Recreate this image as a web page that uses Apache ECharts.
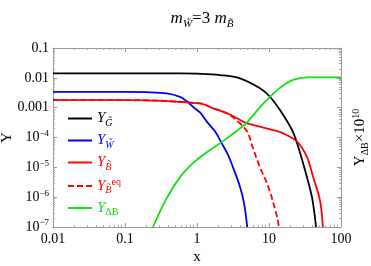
<!DOCTYPE html>
<html><head><meta charset="utf-8">
<script src="https://cdn.jsdelivr.net/npm/echarts@6/dist/echarts.min.js"></script>
<style>html,body{margin:0;padding:0;background:#fff}#c{width:371px;height:266px}</style>
</head><body><div id="c"></div>
<script>
// x values and Y values
const gX = [0.01, 0.1, 0.58, 1.0, 2.09, 3.96, 7.5, 10.3, 14.2, 20.9, 24.5, 31.6, 39.5, 45];
const gY = [0.0142, 0.0142, 0.0142, 0.0138, 0.0124, 0.0096, 0.00445, 0.00232, 8.3e-4, 1.78e-4, 6.5e-5, 8.1e-6, 1e-6, 1e-7];
const wX = [0.01, 0.1, 0.2, 0.38, 0.58, 0.73, 0.88, 1.1, 1.37, 1.77, 2.2, 2.7, 3.16, 3.96, 4.5, 4.98];
const wY = [0.0034, 0.0034, 0.0033, 0.0030, 0.0023, 0.0016, 0.00107, 6.9e-4, 3.4e-4, 1.64e-4, 6.5e-5, 2.6e-5, 1.0e-5, 2.2e-6, 6.3e-7, 1e-7];
const bX = [0.01, 0.1, 1.1, 1.67, 2.6, 3.6, 4.98, 7.5, 11.3, 15.5, 24.5, 33.6, 41, 51, 56];
const bY = [0.0018, 0.0018, 0.00139, 9.5e-4, 6.5e-4, 4.4e-4, 2.97e-4, 2.3e-4, 1.78e-4, 1.4e-4, 7.3e-5, 2.25e-5, 4.8e-6, 7.9e-7, 1e-7];
const eqX = [0.01, 0.1, 1.1, 1.67, 2.6, 3.7, 5.0, 5.8, 7.5, 9.8, 13, 13.7];
const eqY = [0.0018, 0.0018, 0.00139, 9.5e-4, 6.5e-4, 3.4e-4, 1.55e-4, 5.5e-5, 1.0e-5, 2.2e-6, 2.1e-7, 1e-7];
const dX = [0.245, 0.38, 0.58, 0.88, 1.37, 2.2, 3.7, 5.0, 7.5, 10.3, 14.2, 21.5, 33.6, 100];
const dY = [1e-7, 9.3e-7, 4.7e-6, 1.38e-5, 3.2e-5, 7.0e-5, 1.78e-4, 3.3e-4, 1.04e-3, 2.3e-3, 4.6e-3, 8.5e-3, 0.0104, 0.0104];
const yTickLabels = {'0.1':'0.1','0.01':'0.01','0.001':'0.001'};
const xDecades = [0.01, 0.1, 1, 10];
const yDecades = [1e-7, 1e-6, 1e-5, 1e-4, 1e-3, 1e-2];

const minorOf = decs => decs.flatMap(d => [2,3,4,5,6,7,8,9].map(m => +(d * m).toPrecision(2)));
const zip = (xs, ys) => xs.map((x, i) => [x, ys[i]]);
const F = 'Liberation Serif';
const colors = {YG: '#000000', YW: '#0000ff', YB: '#ff0000', YBeq: '#ff0000', YdB: '#11e011'};
const richFor = c => ({
  i: {fontFamily: F, fontStyle: 'italic', fontSize: 15, color: c},
  s: {fontFamily: F, fontStyle: 'italic', fontSize: 10, padding: [9, 0, 0, 0], color: c},
  sn: {fontFamily: F, fontSize: 10, padding: [9, 0, 0, 0], color: c},
  sup: {fontFamily: F, fontSize: 10, padding: [0, 0, 8, 0], color: c}
});
const names = ['YG', 'YW', 'YB', 'YBeq', 'YdB'];
const legendFmt = {
  YG: '{i|Y}{s|G\u0303}',
  YW: '{i|Y}{s|W\u0303}',
  YB: '{i|Y}{s|B\u0303}',
  YBeq: '{i|Y}{s|B\u0303}{sup|eq}',
  YdB: '{i|Y}{sn|ΔB}'
};
const chart = echarts.init(document.getElementById('c'), null, {renderer: 'canvas'});
const frame = {show: true, lineStyle: {color: '#999', width: 1}};
const majorTick = {show: true, inside: true, length: 4, lineStyle: {color: '#999'}};
const minorTickAxis = (vals, pos, isX) => ({
  type: 'log', logBase: 10, min: isX ? 0.01 : 1e-7, max: isX ? 100 : 0.1, position: pos,
  axisLine: {show: false}, splitLine: {show: false}, axisLabel: {show: false},
  axisTick: {show: true, inside: true, length: 2, customValues: vals, lineStyle: {color: '#aaa'}}
});
const line = (name, data, dashed) => ({
  name, type: 'line', data, showSymbol: false, symbol: 'none', smooth: 0.35,
  lineStyle: {color: colors[name], width: 1.8, type: dashed ? [6, 3] : 'solid'},
  itemStyle: {color: colors[name]}, animation: false, clip: true, xAxisIndex: 0, yAxisIndex: 0
});
chart.setOption({
  animation: false,
  title: {
    text: '{i|m}{s|W\u0303}{n|=3 }{i|m}{s|B\u0303}', left: 197, top: 3, textAlign: 'center',
    textStyle: {fontWeight: 'normal', rich: {
      i: {fontFamily: F, fontStyle: 'italic', fontSize: 17, color: '#000'},
      n: {fontFamily: F, fontSize: 17, color: '#000'},
      s: {fontFamily: F, fontStyle: 'italic', fontSize: 11, padding: [11, 0, 0, 0], color: '#000'}
    }}
  },
  grid: {left: 53, right: 30, top: 48, bottom: 39, outerBoundsMode: 'none', containLabel: false},
  legend: {
    orient: 'vertical', left: 62, top: 106, itemWidth: 24, itemHeight: 10, itemGap: 5,
    itemStyle: {opacity: 0},
    data: names.map(n => ({name: n, textStyle: {color: colors[n], rich: richFor(colors[n])}})),
    formatter: n => legendFmt[n],
    textStyle: {fontFamily: F, fontSize: 15},
    selectedMode: false
  },
  xAxis: [
    {type: 'log', logBase: 10, min: 0.01, max: 100, position: 'bottom',
      name: 'x', nameLocation: 'middle', nameGap: 23, nameMoveOverlap: false,
      nameTextStyle: {fontFamily: F, fontSize: 15, color: '#000'},
      axisLine: frame, axisTick: majorTick, splitLine: {show: false},
      axisLabel: {fontFamily: F, fontSize: 14, color: '#000', margin: 5,
        formatter: v => String(+v.toPrecision(3))}},
    {type: 'log', logBase: 10, min: 0.01, max: 100, position: 'top',
      axisLine: frame, axisTick: majorTick, splitLine: {show: false}, axisLabel: {show: false}},
    minorTickAxis(minorOf(xDecades), 'bottom', true),
    minorTickAxis(minorOf(xDecades), 'top', true)
  ],
  yAxis: [
    {type: 'log', logBase: 10, min: 1e-7, max: 0.1, position: 'left',
      name: 'Y', nameLocation: 'middle', nameGap: 38, nameRotate: 90, nameMoveOverlap: false,
      nameTextStyle: {fontFamily: F, fontSize: 15, color: '#000'},
      axisLine: frame, axisTick: majorTick, splitLine: {show: false},
      axisLabel: {fontFamily: F, fontSize: 14, color: '#000', margin: 4,
        formatter: v => {
          const k = Math.round(Math.log10(v));
          const key = String(+v.toPrecision(3));
          if (yTickLabels[key]) return yTickLabels[key];
          return '{n|10}{e|−' + (-k) + '}';
        },
        rich: {n: {fontFamily: F, fontSize: 14, color: '#000'},
               e: {fontFamily: F, fontSize: 9, color: '#000', padding: [0, 0, 8, 0]}}}},
    {type: 'log', logBase: 10, min: 1e-7, max: 0.1, position: 'right',
      name: '{n|Y}{s|ΔB}{n|×10}{e|10}', nameLocation: 'middle', nameGap: 10, nameRotate: 90,
      nameMoveOverlap: false,
      nameTextStyle: {rich: {
        n: {fontFamily: F, fontSize: 15, color: '#000'},
        s: {fontFamily: F, fontSize: 10, color: '#000', padding: [9, 0, 0, 0]},
        e: {fontFamily: F, fontSize: 10, color: '#000', padding: [0, 0, 9, 0]}}},
      axisLine: frame, axisTick: majorTick, splitLine: {show: false}, axisLabel: {show: false}},
    minorTickAxis(minorOf(yDecades), 'left', false),
    minorTickAxis(minorOf(yDecades), 'right', false)
  ],
  series: [
    line('YG', zip(gX, gY)),
    line('YW', zip(wX, wY)),
    line('YB', zip(bX, bY)),
    line('YBeq', zip(eqX, eqY), true),
    line('YdB', zip(dX, dY))
  ]
});
</script></body></html>
